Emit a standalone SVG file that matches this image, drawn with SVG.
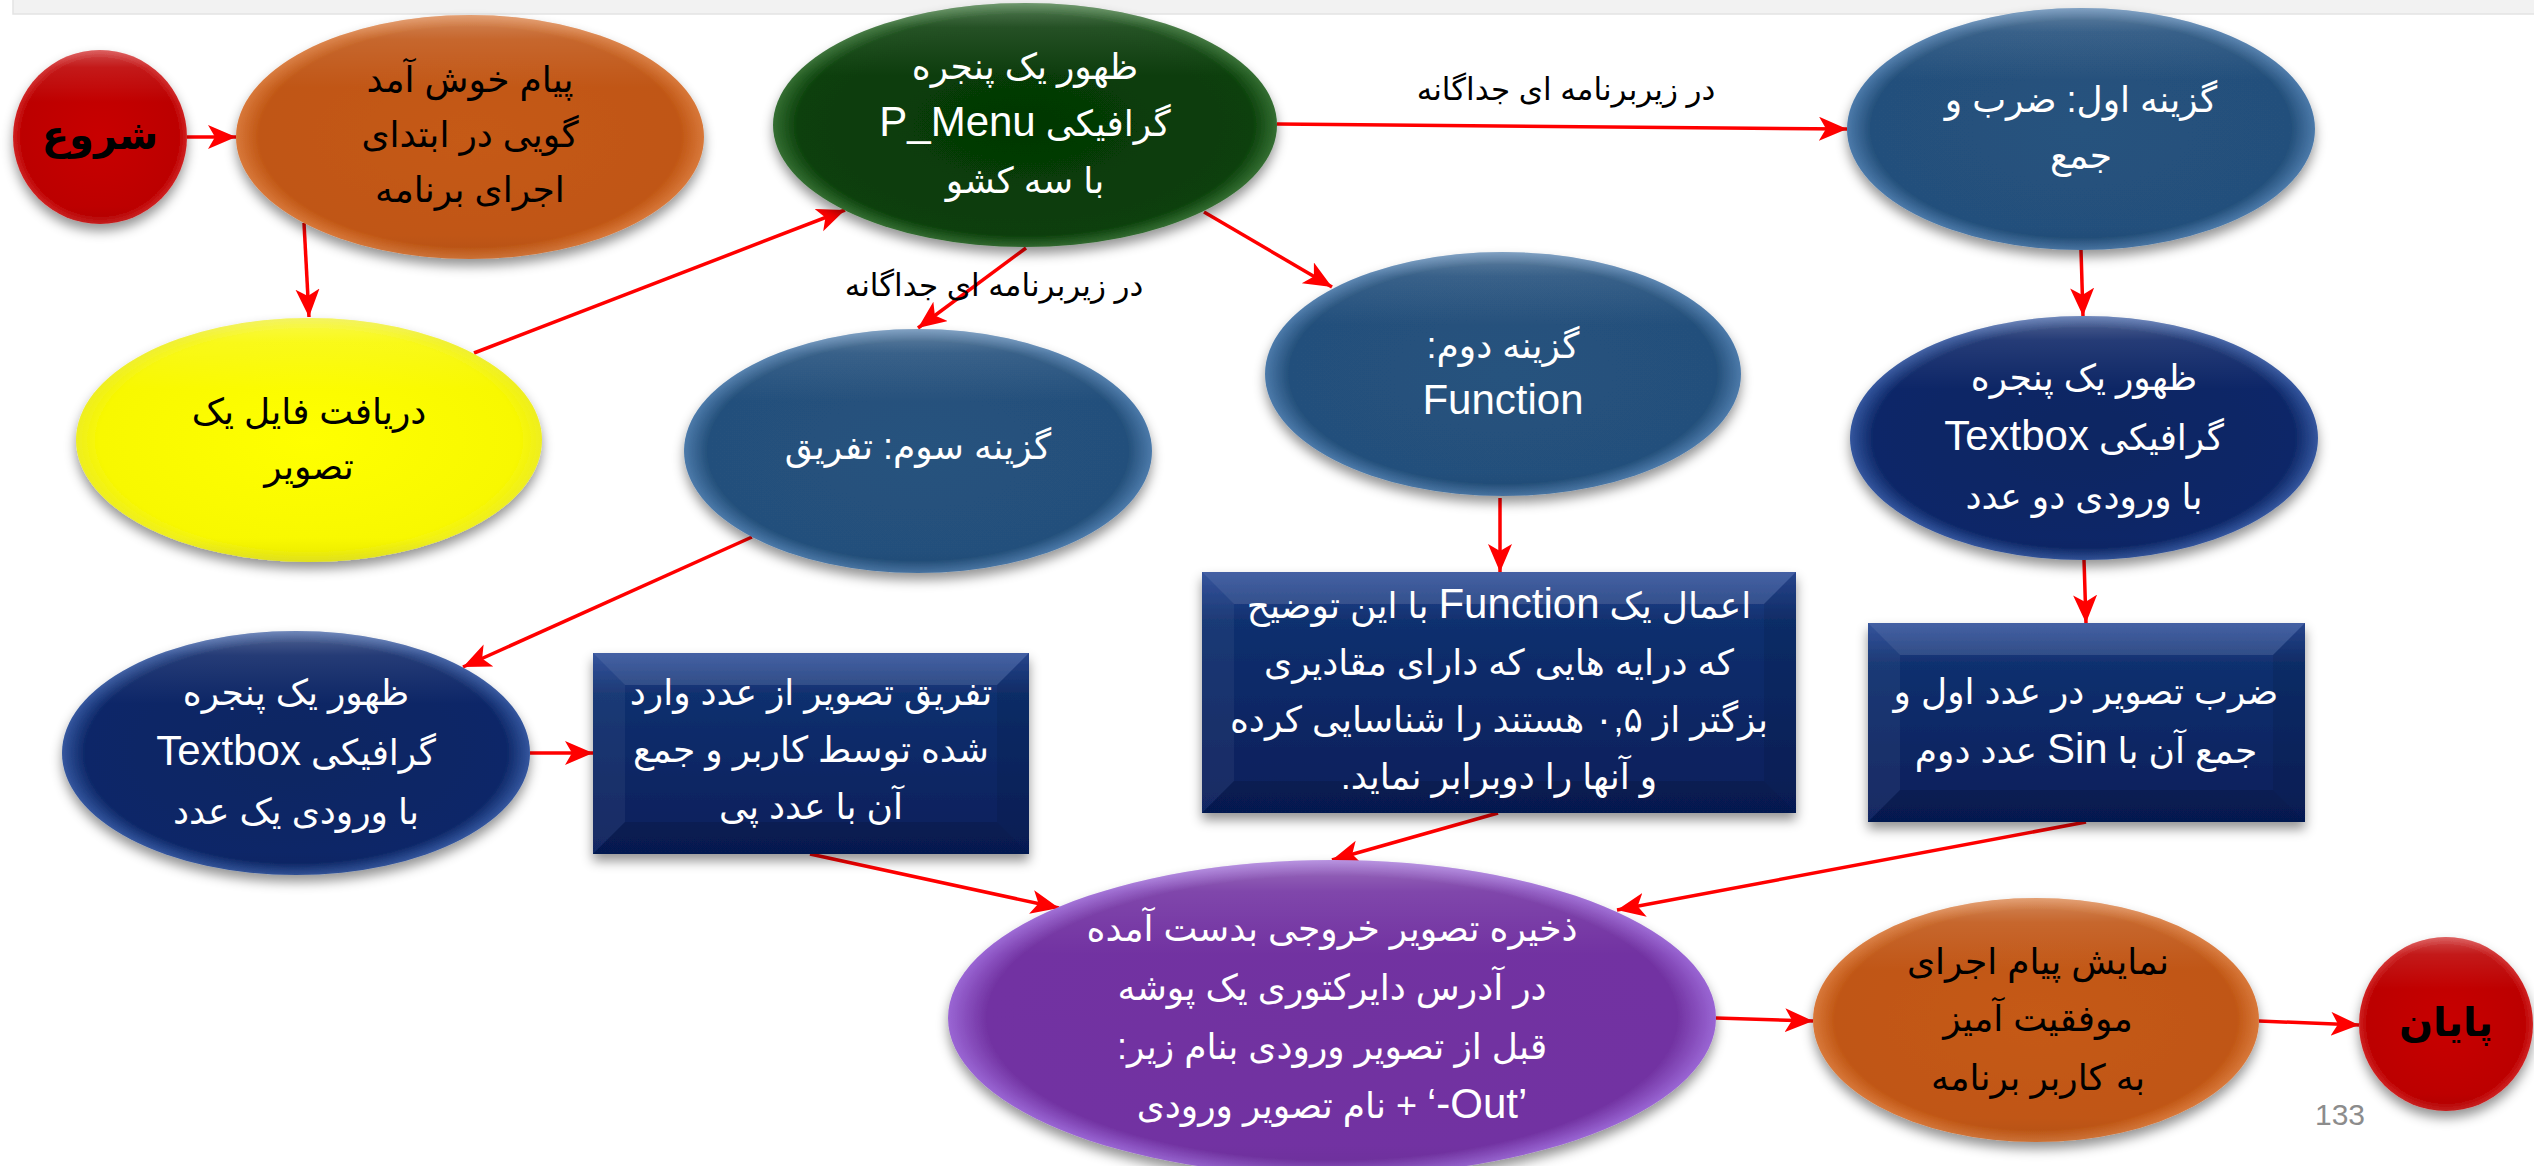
<svg xmlns="http://www.w3.org/2000/svg" width="2534" height="1166" viewBox="0 0 2534 1166">
<style>
.tx{font-family:'Liberation Sans','DejaVu Sans',sans-serif;font-size:36px;text-anchor:middle;direction:rtl;unicode-bidi:embed}
.lt{font-size:42px}
.w{fill:#ffffff}
.k{fill:#000000}
.b{font-weight:bold}
.lbl{font-family:'Liberation Sans','DejaVu Sans',sans-serif;font-size:31px;text-anchor:middle;direction:rtl;unicode-bidi:embed;fill:#000}
.con line{stroke:#ff0000;stroke-width:3.5;fill:none;marker-end:url(#ah)}
.gl{fill:url(#gloss)}
</style>
<defs>
<filter id="sh" x="-15%" y="-15%" width="130%" height="140%"><feDropShadow dx="0" dy="7" stdDeviation="6" flood-color="#000" flood-opacity="0.42"/></filter>
<marker id="ah" markerUnits="userSpaceOnUse" markerWidth="30" markerHeight="26" refX="28" refY="12" orient="auto"><path d="M0,0 L28,12 L0,24 L7,12 z" fill="#ff0000"/></marker>
<linearGradient id="gloss" x1="0" y1="0" x2="0" y2="1"><stop offset="0" stop-color="#fff" stop-opacity="0.3"/><stop offset="0.1" stop-color="#fff" stop-opacity="0.1"/><stop offset="0.3" stop-color="#fff" stop-opacity="0"/><stop offset="0.9" stop-color="#000" stop-opacity="0"/><stop offset="1" stop-color="#000" stop-opacity="0.06"/></linearGradient>
<radialGradient id="gRed" cx="50%" cy="50%" r="50%"><stop offset="0" stop-color="#c80606"/><stop offset="0.9" stop-color="#bc0000"/><stop offset="1" stop-color="#cf2222"/></radialGradient>
<radialGradient id="gOr" cx="50%" cy="50%" r="50%"><stop offset="0" stop-color="#c55a15"/><stop offset="0.9" stop-color="#c05614"/><stop offset="1" stop-color="#d8783a"/></radialGradient>
<radialGradient id="gYe" cx="50%" cy="50%" r="50%"><stop offset="0" stop-color="#ffff00"/><stop offset="0.9" stop-color="#f8f800"/><stop offset="1" stop-color="#eeee22"/></radialGradient>
<radialGradient id="gGr" cx="50%" cy="50%" r="50%"><stop offset="0" stop-color="#043804"/><stop offset="0.9" stop-color="#0a3f0a"/><stop offset="1" stop-color="#346e32"/></radialGradient>
<radialGradient id="gBl" cx="50%" cy="50%" r="50%"><stop offset="0" stop-color="#26527e"/><stop offset="0.9" stop-color="#24507b"/><stop offset="1" stop-color="#4c7aaa"/></radialGradient>
<radialGradient id="gNv" cx="50%" cy="50%" r="50%"><stop offset="0" stop-color="#0b2563"/><stop offset="0.9" stop-color="#0d2767"/><stop offset="1" stop-color="#34569e"/></radialGradient>
<radialGradient id="gPu" cx="50%" cy="50%" r="50%"><stop offset="0" stop-color="#7132a0"/><stop offset="0.9" stop-color="#7233a2"/><stop offset="1" stop-color="#9a66d4"/></radialGradient>
<linearGradient id="gRect" x1="0" y1="0" x2="0" y2="1"><stop offset="0" stop-color="#2b4b98"/><stop offset="0.2" stop-color="#11306f"/><stop offset="1" stop-color="#061e5a"/></linearGradient>
</defs>
<rect x="13" y="-2" width="2530" height="16" fill="#f2f2f2" stroke="#e3e3e3" stroke-width="1.5"/>

<g id="connectors" class="con">
<line x1="187" y1="137" x2="236" y2="137"/>
<line x1="304" y1="223" x2="309" y2="317"/>
<line x1="474" y1="353" x2="845" y2="210"/>
<line x1="1277" y1="124" x2="1847" y2="129"/>
<line x1="1026" y1="248" x2="918" y2="328"/>
<line x1="1204" y1="212" x2="1332" y2="287"/>
<line x1="2081" y1="250" x2="2083" y2="316"/>
<line x1="2084" y1="560" x2="2086" y2="623"/>
<line x1="1500" y1="498" x2="1500" y2="572"/>
<line x1="752" y1="537" x2="463" y2="667"/>
<line x1="530" y1="753" x2="593" y2="753"/>
<line x1="810" y1="854" x2="1059" y2="908"/>
<line x1="1498" y1="813" x2="1332" y2="860"/>
<line x1="2086" y1="822" x2="1617" y2="910"/>
<line x1="1716" y1="1018" x2="1813" y2="1021"/>
<line x1="2259" y1="1021" x2="2359" y2="1025"/>
</g>

<g id="start">
<ellipse cx="100" cy="137" rx="87" ry="87" fill="url(#gRed)" filter="url(#sh)"/>
<ellipse cx="100" cy="137" rx="87" ry="87" class="gl"/>
<text class="tx k b" x="100" y="149" style="font-size:40px">شروع</text>
</g>

<g id="welcome">
<ellipse cx="470" cy="137" rx="234" ry="122" fill="url(#gOr)" filter="url(#sh)"/>
<ellipse cx="470" cy="137" rx="234" ry="122" class="gl"/>
<text class="tx k"><tspan x="470" y="92">پیام خوش آمد</tspan><tspan x="470" y="147">گویی در ابتدای</tspan><tspan x="470" y="202">اجرای برنامه</tspan></text>
</g>

<g id="getfile">
<ellipse cx="309" cy="440" rx="233" ry="122" fill="url(#gYe)" filter="url(#sh)"/>
<ellipse cx="309" cy="440" rx="233" ry="122" class="gl"/>
<text class="tx k"><tspan x="309" y="424">دریافت فایل یک</tspan><tspan x="309" y="479">تصویر</tspan></text>
</g>

<g id="pmenu">
<ellipse cx="1025" cy="125" rx="252" ry="122" fill="url(#gGr)" filter="url(#sh)"/>
<ellipse cx="1025" cy="125" rx="252" ry="122" class="gl"/>
<text class="tx w"><tspan x="1025" y="79">ظهور یک پنجره</tspan><tspan x="1025" y="136">گرافیکی <tspan class="lt">P_Menu</tspan></tspan><tspan x="1025" y="193">با سه کشو</tspan></text>
</g>

<g id="option1">
<ellipse cx="2081" cy="129" rx="234" ry="121" fill="url(#gBl)" filter="url(#sh)"/>
<ellipse cx="2081" cy="129" rx="234" ry="121" class="gl"/>
<text class="tx w"><tspan x="2081" y="112">گزینه اول: ضرب و</tspan><tspan x="2081" y="168">جمع</tspan></text>
</g>

<g id="option2">
<ellipse cx="1503" cy="374" rx="238" ry="122" fill="url(#gBl)" filter="url(#sh)"/>
<ellipse cx="1503" cy="374" rx="238" ry="122" class="gl"/>
<text class="tx w"><tspan x="1503" y="358">گزینه دوم:</tspan><tspan x="1503" y="414" class="lt">Function</tspan></text>
</g>

<g id="option3">
<ellipse cx="918" cy="451" rx="234" ry="122" fill="url(#gBl)" filter="url(#sh)"/>
<ellipse cx="918" cy="451" rx="234" ry="122" class="gl"/>
<text class="tx w" x="918" y="459">گزینه سوم: تفریق</text>
</g>

<g id="textbox1">
<ellipse cx="296" cy="753" rx="234" ry="122" fill="url(#gNv)" filter="url(#sh)"/>
<ellipse cx="296" cy="753" rx="234" ry="122" class="gl"/>
<text class="tx w"><tspan x="296" y="705">ظهور یک پنجره</tspan><tspan x="296" y="765">گرافیکی <tspan class="lt">Textbox</tspan></tspan><tspan x="296" y="824">با ورودی یک عدد</tspan></text>
</g>

<g id="textbox2">
<ellipse cx="2084" cy="438" rx="234" ry="122" fill="url(#gNv)" filter="url(#sh)"/>
<ellipse cx="2084" cy="438" rx="234" ry="122" class="gl"/>
<text class="tx w"><tspan x="2084" y="390">ظهور یک پنجره</tspan><tspan x="2084" y="450">گرافیکی <tspan class="lt">Textbox</tspan></tspan><tspan x="2084" y="509">با ورودی دو عدد</tspan></text>
</g>

<g id="subtract">
<rect x="593" y="653" width="436" height="201" fill="url(#gRect)" filter="url(#sh)"/>
<polygon points="593,653 1029,653 997,685 625,685" fill="#fff" fill-opacity="0.12"/>
<polygon points="593,653 625,685 625,822 593,854" fill="#fff" fill-opacity="0.05"/>
<polygon points="1029,653 1029,854 997,822 997,685" fill="#000" fill-opacity="0.08"/>
<polygon points="593,854 625,822 997,822 1029,854" fill="#000" fill-opacity="0.12"/>
<text class="tx w"><tspan x="811" y="705">تفریق تصویر از عدد وارد</tspan><tspan x="811" y="762">شده توسط کاربر و جمع</tspan><tspan x="811" y="819">آن با عدد پی</tspan></text>
</g>

<g id="function">
<rect x="1202" y="572" width="594" height="241" fill="url(#gRect)" filter="url(#sh)"/>
<polygon points="1202,572 1796,572 1764,604 1234,604" fill="#fff" fill-opacity="0.12"/>
<polygon points="1202,572 1234,604 1234,781 1202,813" fill="#fff" fill-opacity="0.05"/>
<polygon points="1796,572 1796,813 1764,781 1764,604" fill="#000" fill-opacity="0.08"/>
<polygon points="1202,813 1234,781 1764,781 1796,813" fill="#000" fill-opacity="0.12"/>
<text class="tx w"><tspan x="1499" y="618">اعمال یک <tspan class="lt">Function</tspan> با این توضیح</tspan><tspan x="1499" y="675">که درایه هایی که دارای مقادیری</tspan><tspan x="1499" y="732">بزگتر از ۰,۵ هستند را شناسایی کرده</tspan><tspan x="1499" y="789">و آنها را دوبرابر نماید.</tspan></text>
</g>

<g id="multiply">
<rect x="1868" y="623" width="437" height="199" fill="url(#gRect)" filter="url(#sh)"/>
<polygon points="1868,623 2305,623 2273,655 1900,655" fill="#fff" fill-opacity="0.12"/>
<polygon points="1868,623 1900,655 1900,790 1868,822" fill="#fff" fill-opacity="0.05"/>
<polygon points="2305,623 2305,822 2273,790 2273,655" fill="#000" fill-opacity="0.08"/>
<polygon points="1868,822 1900,790 2273,790 2305,822" fill="#000" fill-opacity="0.12"/>
<text class="tx w"><tspan x="2086" y="704">ضرب تصویر در عدد اول و</tspan><tspan x="2086" y="763">جمع آن با <tspan class="lt">Sin</tspan> عدد دوم</tspan></text>
</g>

<g id="save">
<ellipse cx="1332" cy="1018" rx="384" ry="158" fill="url(#gPu)" filter="url(#sh)"/>
<ellipse cx="1332" cy="1018" rx="384" ry="158" class="gl"/>
<text class="tx w"><tspan x="1332" y="941">ذخیره تصویر خروجی بدست آمده</tspan><tspan x="1332" y="1000">در آدرس دایرکتوری یک پوشه</tspan><tspan x="1332" y="1059">قبل از تصویر ورودی بنام زیر:</tspan><tspan x="1332" y="1118"><tspan class="lt">&#x200F;&#x202A;‘-Out’&#x202C;</tspan> + نام تصویر ورودی</tspan></text>
</g>

<g id="success">
<ellipse cx="2036" cy="1020" rx="223" ry="122" fill="url(#gOr)" filter="url(#sh)"/>
<ellipse cx="2036" cy="1020" rx="223" ry="122" class="gl"/>
<text class="tx k"><tspan x="2038" y="974">نمایش پیام اجرای</tspan><tspan x="2038" y="1031">موفقیت آمیز</tspan><tspan x="2038" y="1090">به کاربر برنامه</tspan></text>
</g>

<g id="end">
<ellipse cx="2446" cy="1024" rx="87" ry="87" fill="url(#gRed)" filter="url(#sh)"/>
<ellipse cx="2446" cy="1024" rx="87" ry="87" class="gl"/>
<text class="tx k b" x="2446" y="1036" style="font-size:40px">پایان</text>
</g>

<g id="labels">
<text class="lbl" x="1566" y="100">در زیربرنامه ای جداگانه</text>
<text class="lbl" x="994" y="296">در زیربرنامه ای جداگانه</text>
<text x="2340" y="1125" font-family="'Liberation Sans',sans-serif" font-size="30" fill="#8c8c8c" text-anchor="middle">133</text>
</g>
</svg>
